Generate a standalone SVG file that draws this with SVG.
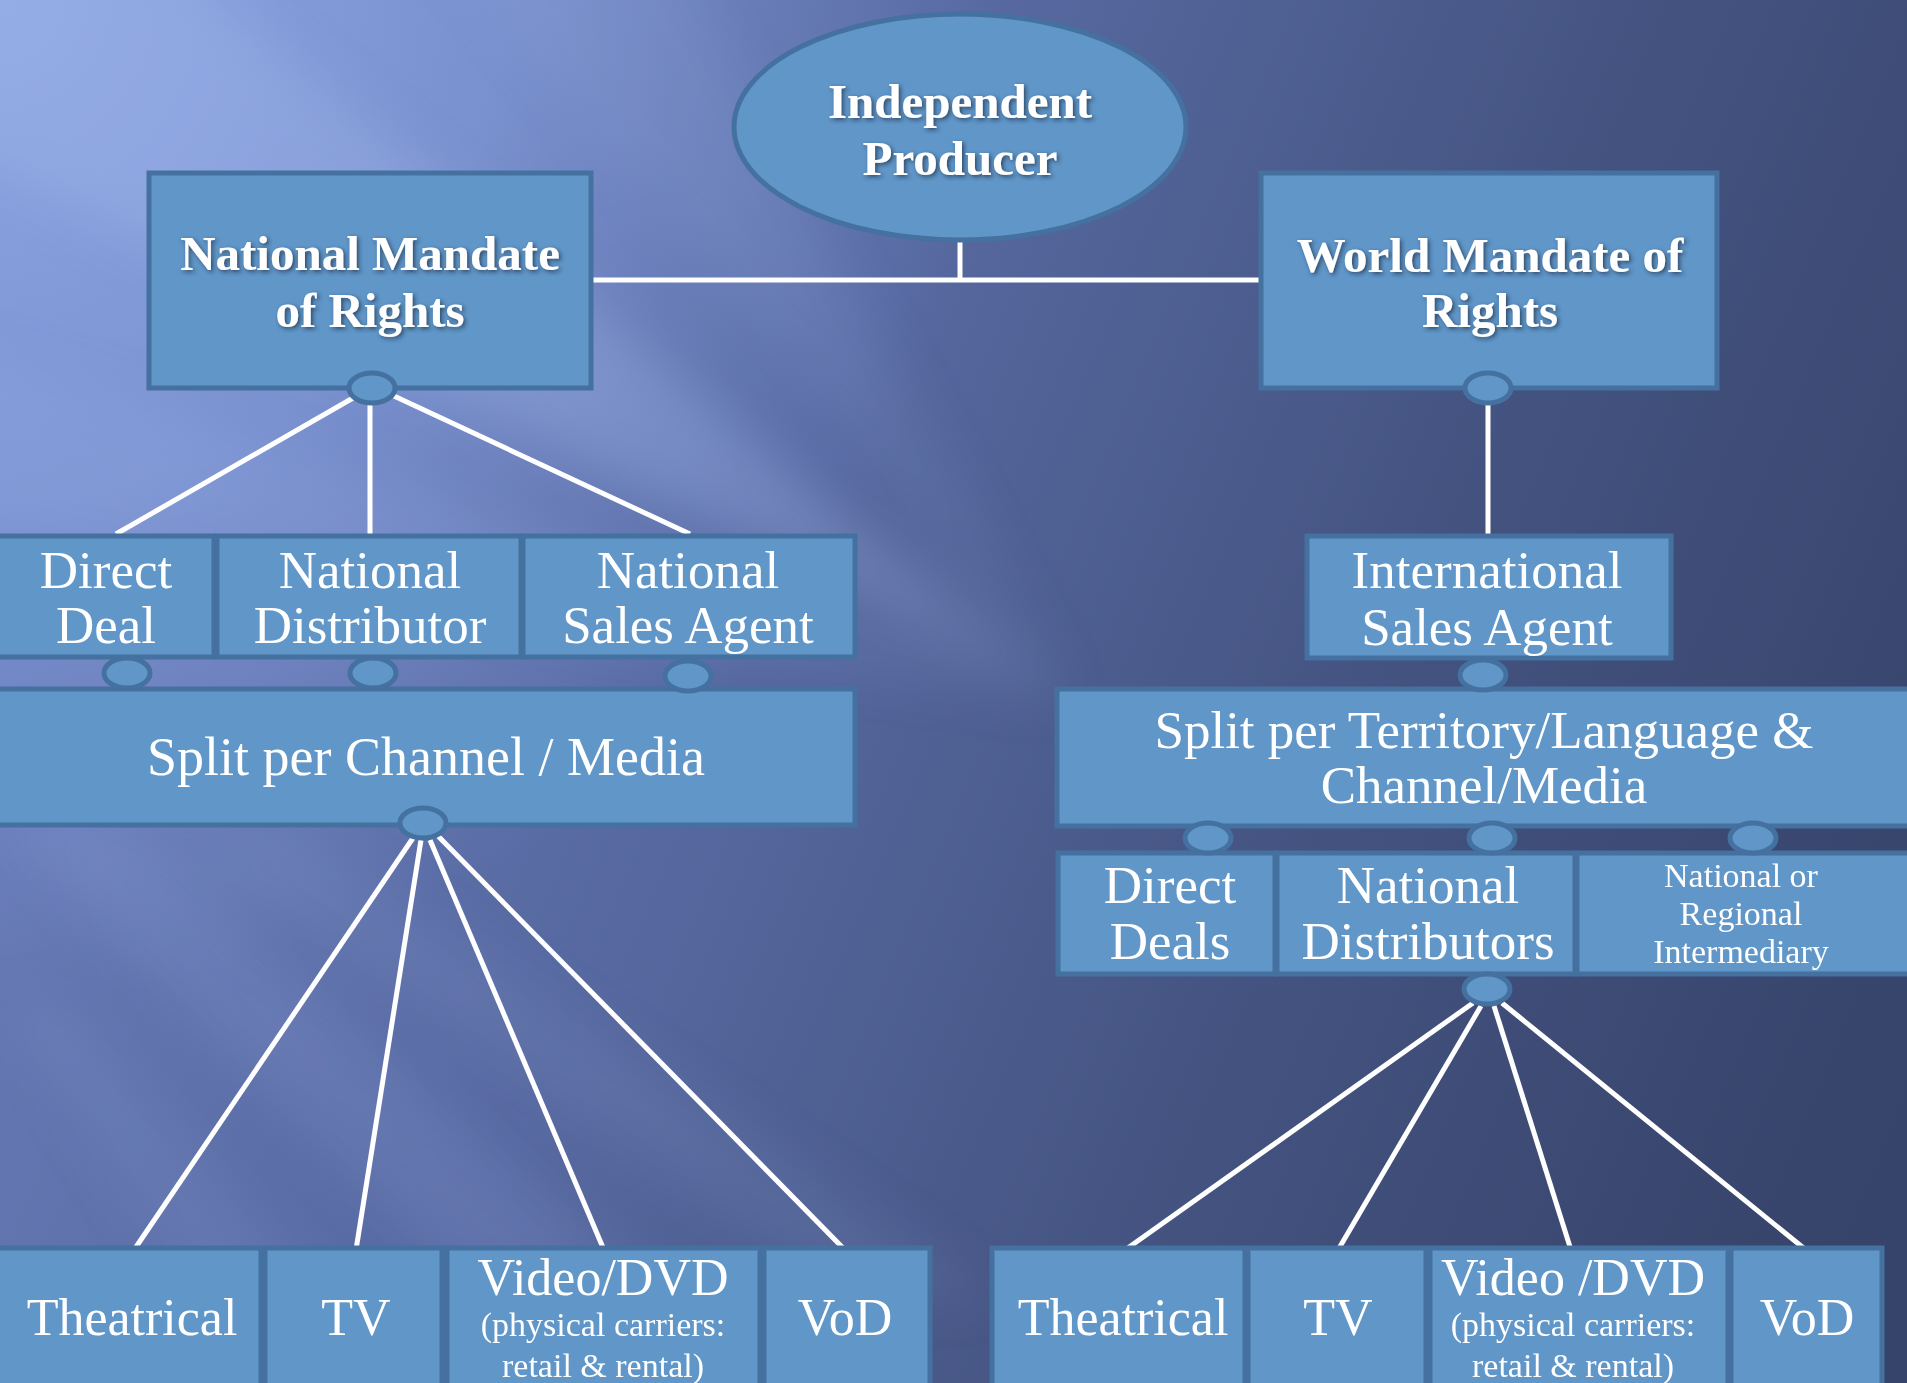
<svg xmlns="http://www.w3.org/2000/svg" width="1907" height="1383" viewBox="0 0 1907 1383">
  <defs>
    <linearGradient id="bg" x1="0" y1="300" x2="1907" y2="1100" gradientUnits="userSpaceOnUse">
      <stop offset="0" stop-color="#6b7ebc"/>
      <stop offset="0.4" stop-color="#56689f"/>
      <stop offset="0.7" stop-color="#43527f"/>
      <stop offset="1" stop-color="#36436a"/>
    </linearGradient>
    <radialGradient id="glow" cx="0" cy="0" r="1000" gradientUnits="userSpaceOnUse">
      <stop offset="0" stop-color="#8ea8e4" stop-opacity="1"/>
      <stop offset="0.5" stop-color="#849ddc" stop-opacity="0.7"/>
      <stop offset="1" stop-color="#7a90d0" stop-opacity="0"/>
    </radialGradient>
    <filter id="blur" x="-20%" y="-20%" width="140%" height="140%">
      <feGaussianBlur stdDeviation="26"/>
    </filter>
    <filter id="shadow" x="-10%" y="-20%" width="120%" height="150%">
      <feDropShadow dx="2" dy="2" stdDeviation="2" flood-color="#1a2540" flood-opacity="0.7"/>
    </filter>
    <style>
      .box { fill: #6096c8; stroke: #44719f; stroke-width: 5; }
      .dot { fill: #6096c8; stroke: #44719f; stroke-width: 5; }
      .ln { stroke: #ffffff; stroke-width: 5; fill: none; stroke-linecap: butt; }
      .t { font-family: "Liberation Serif", "Times New Roman", serif; fill: #ffffff; text-anchor: middle; }
      .big { font-size: 53px; }
      .sm { font-size: 34px; }
      .title { font-family: "Liberation Serif", "Times New Roman", serif; font-weight: bold; font-size: 49px; fill: #ffffff; text-anchor: middle; filter: url(#shadow); }
      .streak { fill: #a4baf0; }
    </style>
  </defs>

  <g id="background">
    <rect x="0" y="0" width="1907" height="1383" fill="url(#bg)"/>
    <rect x="0" y="0" width="1907" height="1383" fill="url(#glow)"/>
    <g filter="url(#blur)">
      <polygon class="streak" points="1070,700 -100,-260 -100,120" opacity="0.3"/>
      <polygon class="streak" points="1070,700 -100,330 -100,520" opacity="0.16"/>
      <polygon class="streak" points="1070,700 400,-100 650,-100" opacity="0.10"/>
      <polygon class="streak" points="0,820 120,820 760,1383 560,1383" opacity="0.14"/>
      <polygon class="streak" points="0,1000 60,1000 400,1383 250,1383" opacity="0.10"/>
      <polygon class="streak" points="150,830 300,830 1000,1300 850,1300" opacity="0.10"/>
    </g>
  </g>

  <g id="connectors">
    <path class="ln" d="M960,242 V280"/>
    <path class="ln" d="M591,280 H1261"/>
    <path class="ln" d="M353,398 L116,534"/>
    <path class="ln" d="M370,404 V534"/>
    <path class="ln" d="M394,396 L690,534"/>
    <path class="ln" d="M1488,404 V536"/>
    <path class="ln" d="M413,838 L134,1250"/>
    <path class="ln" d="M421,840 L356,1250"/>
    <path class="ln" d="M430,840 L604,1250"/>
    <path class="ln" d="M438,836 L845,1250"/>
    <path class="ln" d="M1473,1003 L1125,1250"/>
    <path class="ln" d="M1481,1006 L1338,1250"/>
    <path class="ln" d="M1494,1006 L1571,1250"/>
    <path class="ln" d="M1502,1003 L1806,1250"/>
  </g>

  <g id="node-producer">
    <ellipse class="box" cx="960" cy="127" rx="226" ry="113"/>
    <text class="title" x="960" y="118">Independent</text>
    <text class="title" x="960" y="175">Producer</text>
  </g>

  <g id="node-national-mandate">
    <rect class="box" x="149" y="173" width="442" height="215"/>
    <text class="title" x="370" y="270">National Mandate</text>
    <text class="title" x="370" y="327">of Rights</text>
  </g>

  <g id="node-world-mandate">
    <rect class="box" x="1261" y="173" width="456" height="215"/>
    <text class="title" x="1490" y="272">World Mandate of</text>
    <text class="title" x="1490" y="327">Rights</text>
  </g>

  <g id="node-direct-deal">
    <rect class="box" x="-6" y="536" width="220" height="121"/>
    <text class="t big" x="106" y="588">Direct</text>
    <text class="t big" x="106" y="643">Deal</text>
  </g>

  <g id="node-national-distributor">
    <rect class="box" x="217" y="536" width="304" height="121"/>
    <text class="t big" x="370" y="588">National</text>
    <text class="t big" x="370" y="643">Distributor</text>
  </g>

  <g id="node-national-sales-agent">
    <rect class="box" x="523" y="536" width="332" height="121"/>
    <text class="t big" x="688" y="588">National</text>
    <text class="t big" x="688" y="643">Sales Agent</text>
  </g>

  <g id="node-split-channel">
    <rect class="box" x="-6" y="689" width="861" height="136"/>
    <text class="t" x="426" y="775" font-size="54">Split per Channel / Media</text>
  </g>

  <g id="node-international-sales-agent">
    <rect class="box" x="1307" y="536" width="364" height="122"/>
    <text class="t big" x="1487" y="588">International</text>
    <text class="t big" x="1487" y="645">Sales Agent</text>
  </g>

  <g id="node-split-territory">
    <rect class="box" x="1057" y="689" width="866" height="137"/>
    <text class="t big" x="1484" y="748">Split per Territory/Language &amp;</text>
    <text class="t big" x="1484" y="803">Channel/Media</text>
  </g>

  <g id="node-direct-deals">
    <rect class="box" x="1058" y="853" width="217" height="121"/>
    <text class="t big" x="1170" y="903">Direct</text>
    <text class="t big" x="1170" y="959">Deals</text>
  </g>

  <g id="node-national-distributors">
    <rect class="box" x="1277" y="853" width="298" height="121"/>
    <text class="t big" x="1428" y="903">National</text>
    <text class="t big" x="1428" y="959">Distributors</text>
  </g>

  <g id="node-intermediary">
    <rect class="box" x="1577" y="853" width="346" height="121"/>
    <text class="t sm" x="1741" y="887">National or</text>
    <text class="t sm" x="1741" y="925">Regional</text>
    <text class="t sm" x="1741" y="963">Intermediary</text>
  </g>

  <g id="node-theatrical-left">
    <rect class="box" x="-6" y="1248" width="267" height="150"/>
    <text class="t" x="132" y="1335" font-size="52">Theatrical</text>
  </g>
  <g id="node-tv-left">
    <rect class="box" x="265" y="1248" width="177" height="150"/>
    <text class="t" x="356" y="1335" font-size="52">TV</text>
  </g>
  <g id="node-video-left">
    <rect class="box" x="447" y="1248" width="313" height="150"/>
    <text class="t" x="603" y="1295" font-size="52">Video/DVD</text>
    <text class="t sm" x="603" y="1336">(physical carriers:</text>
    <text class="t sm" x="603" y="1377">retail &amp; rental)</text>
  </g>
  <g id="node-vod-left">
    <rect class="box" x="764" y="1248" width="166" height="150"/>
    <text class="t" x="845" y="1335" font-size="52">VoD</text>
  </g>

  <g id="node-theatrical-right">
    <rect class="box" x="992" y="1248" width="253" height="150"/>
    <text class="t" x="1123" y="1335" font-size="52">Theatrical</text>
  </g>
  <g id="node-tv-right">
    <rect class="box" x="1248" y="1248" width="178" height="150"/>
    <text class="t" x="1338" y="1335" font-size="52">TV</text>
  </g>
  <g id="node-video-right">
    <rect class="box" x="1430" y="1248" width="298" height="150"/>
    <text class="t" x="1573" y="1295" font-size="52">Video /DVD</text>
    <text class="t sm" x="1573" y="1336">(physical carriers:</text>
    <text class="t sm" x="1573" y="1377">retail &amp; rental)</text>
  </g>
  <g id="node-vod-right">
    <rect class="box" x="1731" y="1248" width="151" height="150"/>
    <text class="t" x="1807" y="1335" font-size="52">VoD</text>
  </g>

  <g id="junctions">
    <ellipse class="dot" cx="372" cy="388" rx="23" ry="15"/>
    <ellipse class="dot" cx="1488" cy="388" rx="23" ry="15"/>
    <ellipse class="dot" cx="127" cy="673" rx="23" ry="15"/>
    <ellipse class="dot" cx="373" cy="673" rx="23" ry="15"/>
    <ellipse class="dot" cx="688" cy="676" rx="23" ry="15"/>
    <ellipse class="dot" cx="423" cy="823" rx="23" ry="15"/>
    <ellipse class="dot" cx="1483" cy="675" rx="23" ry="15"/>
    <ellipse class="dot" cx="1208" cy="838" rx="23" ry="15"/>
    <ellipse class="dot" cx="1492" cy="838" rx="23" ry="15"/>
    <ellipse class="dot" cx="1753" cy="838" rx="23" ry="15"/>
    <ellipse class="dot" cx="1487" cy="989" rx="23" ry="15"/>
  </g>
</svg>
